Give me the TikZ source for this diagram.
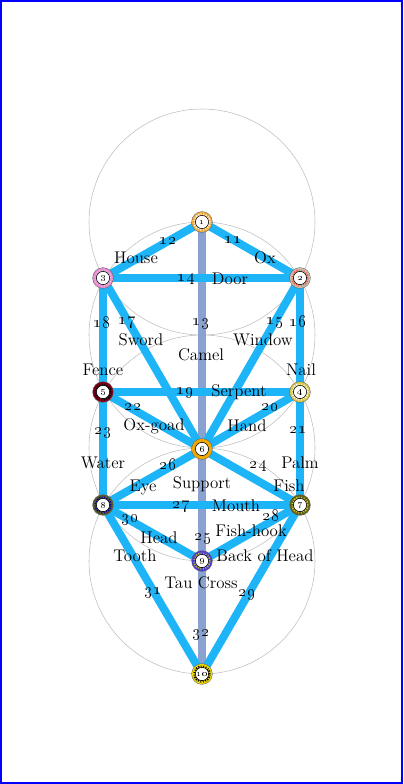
\documentclass[tikz,border=0pt]{standalone}
\definecolor{conduitblue}{RGB}{30,180,248}
\definecolor{pillarblue}{RGB}{138,162,207}
\definecolor{kether}{RGB}{240,170,60}
\definecolor{chokmah}{RGB}{200,190,170}
\definecolor{binah}{RGB}{225,140,205}
\definecolor{chesed}{RGB}{215,195,70}
\definecolor{geburah}{RGB}{130,0,30}
\definecolor{tiphareth}{RGB}{240,168,0}
\definecolor{netzach}{RGB}{95,95,20}
\definecolor{hod}{RGB}{90,90,50}
\definecolor{yesod}{RGB}{75,60,210}
\definecolor{malkuth}{RGB}{235,215,0}
\begin{document}
\begin{tikzpicture}[x=0.025cm,y=-0.025cm,
  conduit/.style={line width=5.7pt,color=conduitblue},
  pillar/.style={line width=5.7pt,color=pillarblue},
  sephira/.style 2 args={circle,fill=white,draw=black,line width=0.4pt,
    inner sep=0pt,minimum size=9.4pt,font=\fontsize{7}{7}\selectfont,
    preaction={draw=black!60,line width=5.6pt},
    preaction={draw=#1,line width=4.9pt},
    preaction={draw=#2,line width=3pt,dash pattern=on 0.6pt off 0.9pt}},
  lbl/.style={font=\fontsize{12}{13}\selectfont,inner sep=0pt},
  num/.style={font=\fontsize{13}{14}\selectfont,inner sep=0pt}]
  \useasboundingbox (0,0) rectangle (403,784);
  \draw[blue,line width=1.4pt] (1,1) rectangle (402,783);
  \foreach \cy in {222,335,448,561}
    \draw[black!25,line width=0.4pt] (202,\cy) circle (113);

  \coordinate (c1) at (202,222);
  \coordinate (c2) at (300,278);
  \coordinate (c3) at (103,278);
  \coordinate (c4) at (300,392);
  \coordinate (c5) at (103,392);
  \coordinate (c6) at (202,449);
  \coordinate (c7) at (300,505);
  \coordinate (c8) at (103,505);
  \coordinate (c9) at (202,561);
  \coordinate (c10) at (202,674);

  \draw[pillar] (c1) -- (c6) -- (c9) -- (c10);
  \foreach \a/\b in {1/2,1/3,2/3,2/6,2/4,3/6,3/5,4/5,4/6,4/7,5/6,5/8,6/7,6/8,7/8,7/9,7/10,8/9,8/10}
    \draw[conduit] (c\a) -- (c\b);

  \node[sephira={kether}{white}] (s1) at (c1) {\oldstylenums{1}};
  \node[sephira={chokmah}{red!70}] (s2) at (c2) {\oldstylenums{2}};
  \node[sephira={binah}{binah!60}] (s3) at (c3) {\oldstylenums{3}};
  \node[sephira={chesed}{white}] (s4) at (c4) {\oldstylenums{4}};
  \node[sephira={geburah}{black}] (s5) at (c5) {\oldstylenums{5}};
  \node[sephira={tiphareth}{tiphareth}] (s6) at (c6) {\oldstylenums{6}};
  \node[sephira={netzach}{yellow!80!black}] (s7) at (c7) {\oldstylenums{7}};
  \node[sephira={hod}{blue!60!black}] (s8) at (c8) {\oldstylenums{8}};
  \node[sephira={yesod}{yellow!70!black}] (s9) at (c9) {\oldstylenums{9}};
  \node[sephira={malkuth}{black}] (s10) at (c10) {\oldstylenums{10}};

  % path numbers
  \foreach \n/\x/\y in {11/233/240,12/168/241,13/201/323,14/186/279,15/275/322,16/298/321,17/127/322,18/102/322,19/185/392,20/270/407,21/298/430,22/133/407,23/103/432,24/258/466,25/203/538,26/168/464,27/181/506,28/271/515,29/247/594,30/130/519,31/153/592,32/201/634}
    \node[num] (n\n) at (\x,\y) {\oldstylenums{\n}};

  % path names
  \node[lbl] (t11) at (265,258) {Ox};
  \node[lbl] (t12) at (136,258) {House};
  \node[lbl] (t13) at (201,355) {Camel};
  \node[lbl] (t14) at (230,279) {Door};
  \node[lbl] (t15) at (263,340) {Window};
  \node[lbl] (t16) at (301,370) {Nail};
  \node[lbl] (t17) at (141,340) {Sword};
  \node[lbl] (t18) at (103,370) {Fence};
  \node[lbl] (t19) at (239,392) {Serpent};
  \node[lbl] (t20) at (247,426) {Hand};
  \node[lbl] (t21) at (300,463) {Palm};
  \node[lbl] (t22) at (154,426) {Ox-goad};
  \node[lbl] (t23) at (103,463) {Water};
  \node[lbl] (t24) at (289,486) {Fish};
  \node[lbl] (t25) at (202,484) {Support};
  \node[lbl] (t26) at (143,487) {Eye};
  \node[lbl] (t27) at (236,506) {Mouth};
  \node[lbl] (t28) at (251,531) {Fish-hook};
  \node[lbl] (t29) at (265,556) {Back of Head};
  \node[lbl] (t30) at (159,538) {Head};
  \node[lbl] (t31) at (135,556) {Tooth};
  \node[lbl] (t32) at (201,583) {Tau Cross};
\end{tikzpicture}
\end{document}
